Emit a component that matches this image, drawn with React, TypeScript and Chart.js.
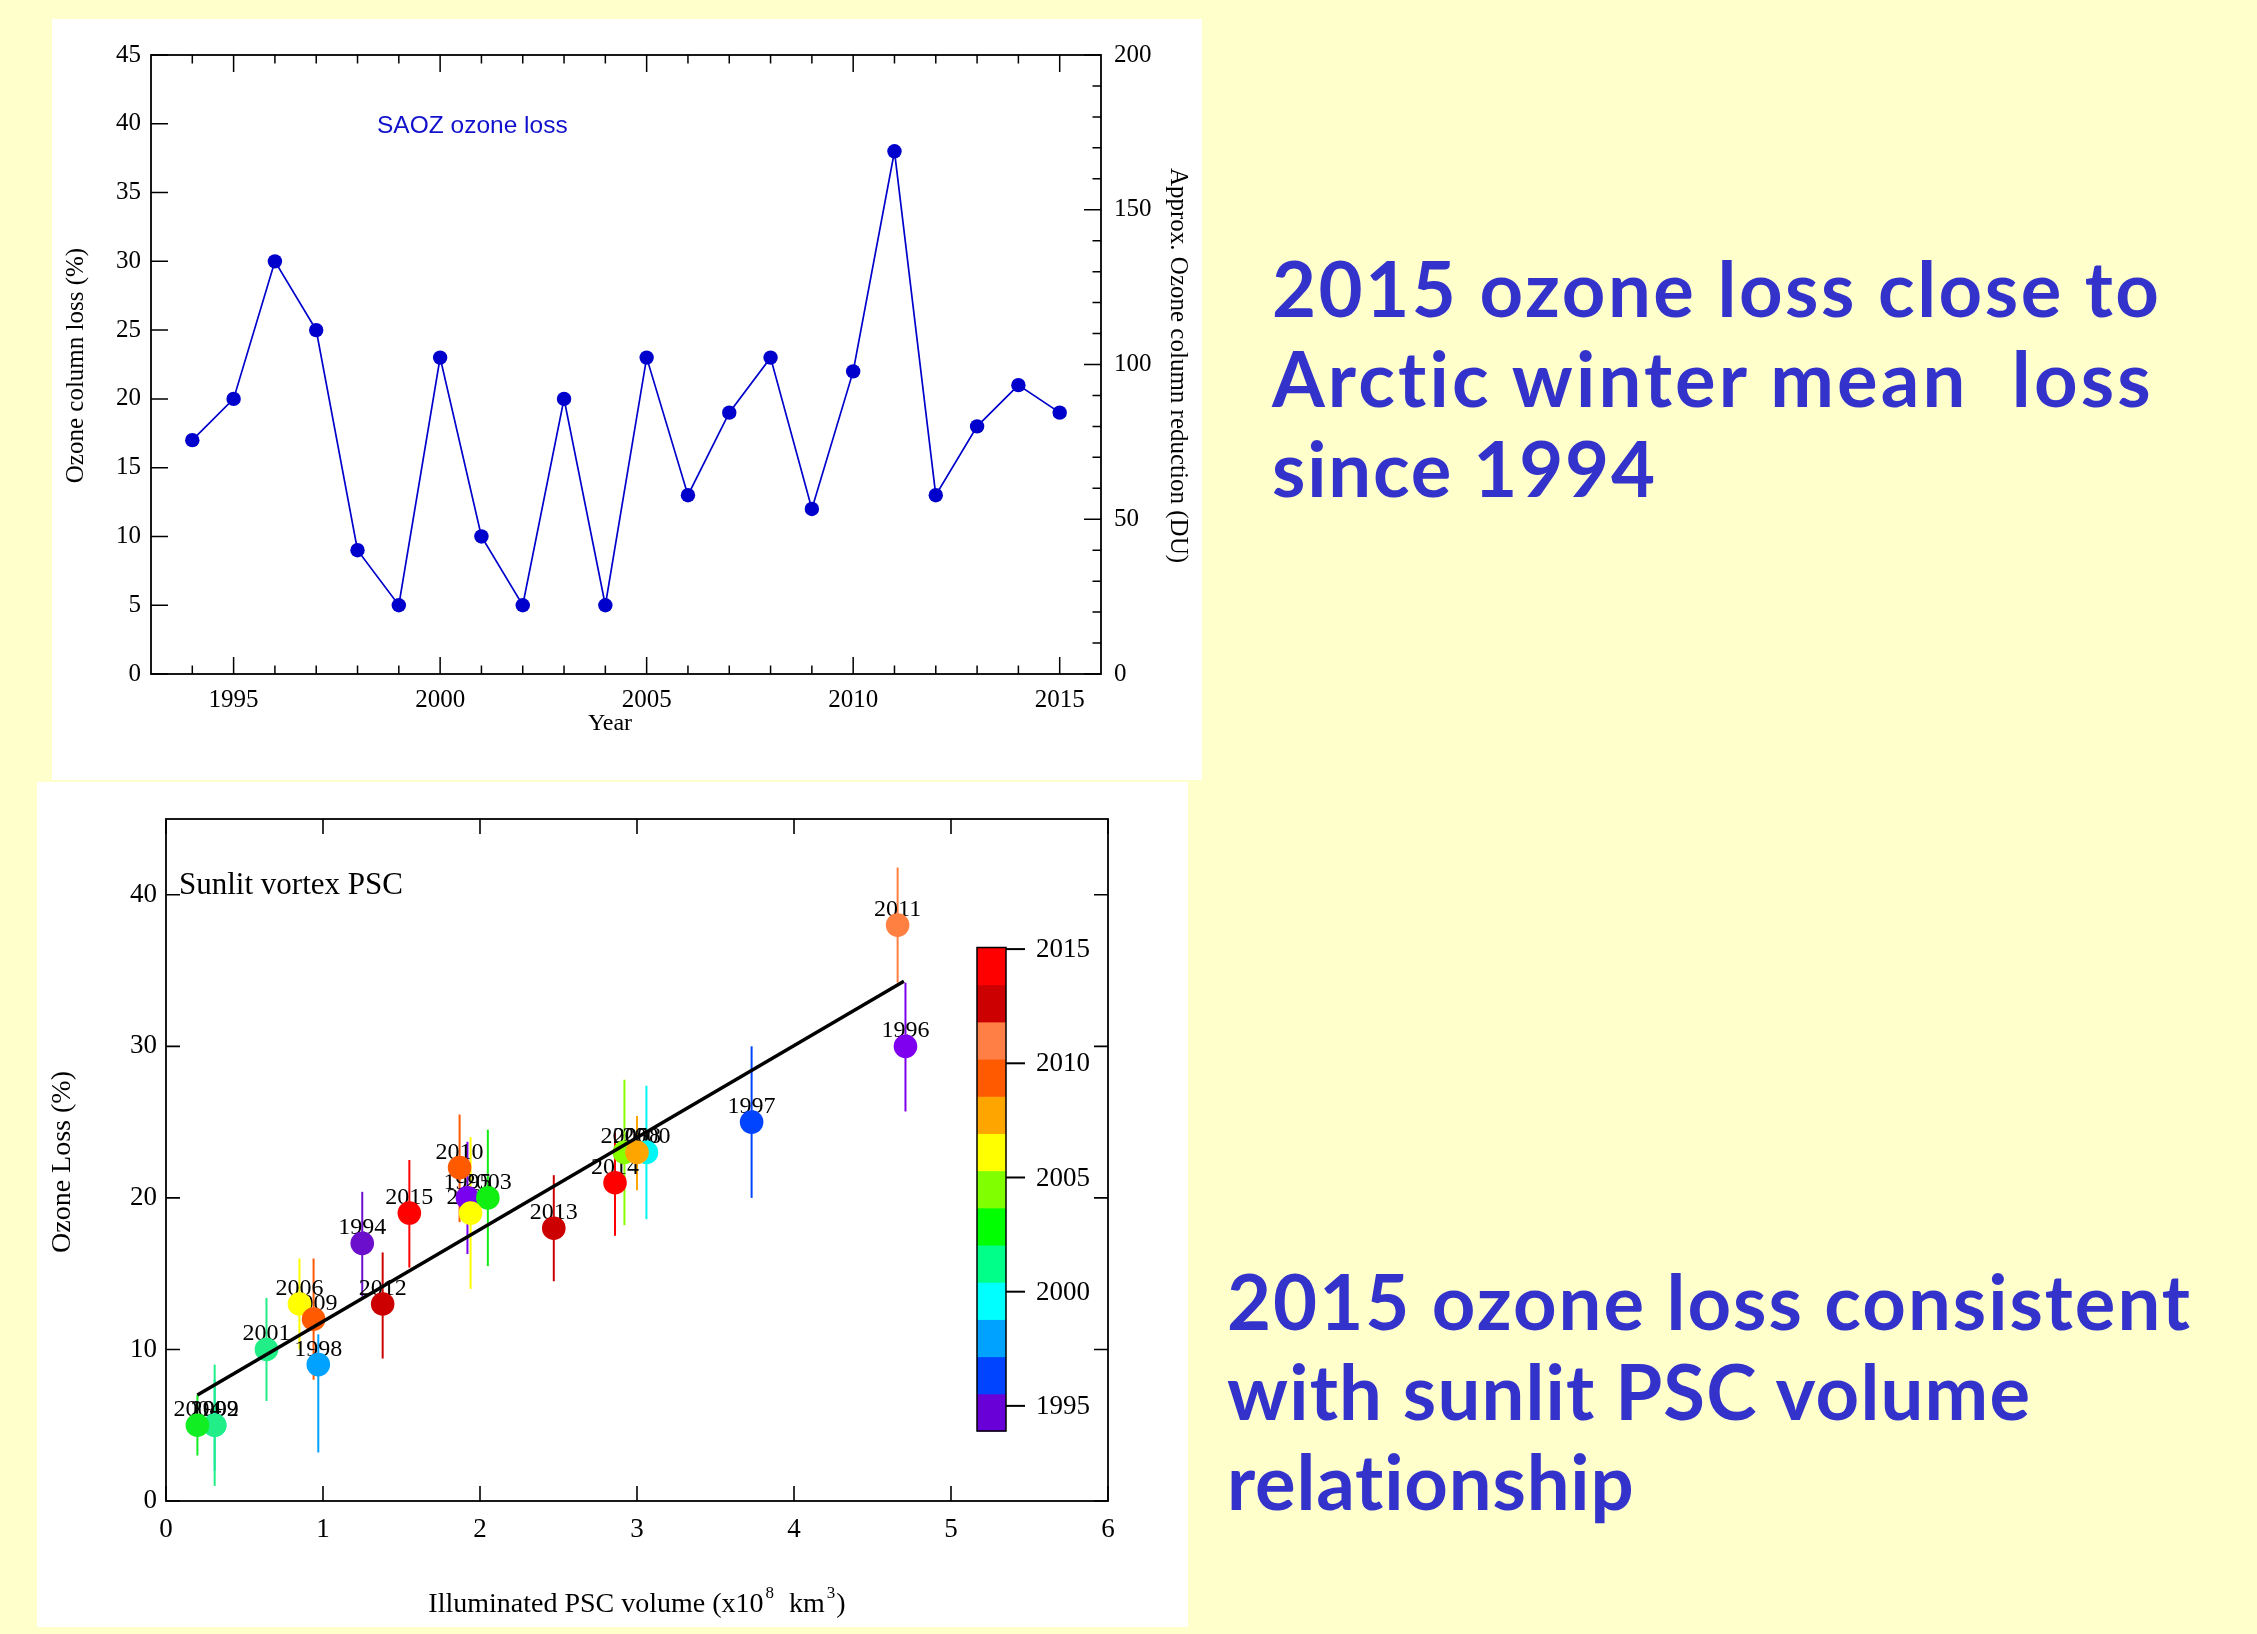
import React, { useEffect, useLayoutEffect, useRef } from "react";
import { Chart, registerables } from "chart.js";

Chart.register(...registerables);

const SERIF = '"Liberation Serif", "Times New Roman", serif';
const SANS = '"Liberation Sans", Arial, sans-serif';
const TEXT_FONT = '"Comic Sans MS", Lato, "DejaVu Sans", sans-serif';

// ---------- Top chart: SAOZ ozone loss time series ----------
const YEARS = [1994, 1995, 1996, 1997, 1998, 1999, 2000, 2001, 2002, 2003, 2004, 2005, 2006, 2007, 2008, 2009, 2010, 2011, 2012, 2013, 2014, 2015];
const OZONE_LOSS = [17, 20, 30, 25, 9, 5, 23, 10, 5, 20, 5, 23, 13, 19, 23, 12, 22, 38, 13, 18, 21, 19];
const YEAR_TICKS = [1995, 2000, 2005, 2010, 2015];
const LOSS_TICKS = [0, 5, 10, 15, 20, 25, 30, 35, 40, 45];
const DU_TICKS = [0, 50, 100, 150, 200];
const DU_MINOR_TICKS = [10, 20, 30, 40, 60, 70, 80, 90, 110, 120, 130, 140, 160, 170, 180, 190];

// ---------- Bottom chart: ozone loss vs sunlit PSC volume ----------
const PSC_YEARS = [1994, 1995, 1996, 1997, 1998, 1999, 2000, 2001, 2002, 2003, 2004, 2005, 2006, 2007, 2008, 2009, 2010, 2011, 2012, 2013, 2014, 2015];
const PSC_VOLUME = [1.25, 1.92, 4.71, 3.73, 0.97, 0.31, 3.06, 0.64, 0.31, 2.05, 0.2, 2.92, 0.85, 1.94, 3.0, 0.94, 1.87, 4.66, 1.38, 2.47, 2.86, 1.55];
const PSC_LOSS = [17, 20, 30, 25, 9, 5, 23, 10, 5, 20, 5, 23, 13, 19, 23, 12, 22, 38, 13, 18, 21, 19];
const PSC_ERR_LOW = [13.5, 16.3, 25.7, 20, 3.2, 2.0, 18.6, 6.6, 1.0, 15.5, 3.0, 18.2, 10.0, 14.0, 20.5, 8.0, 18.4, 34.2, 9.4, 14.5, 17.5, 15.4];
const PSC_ERR_HIGH = [20.4, 23.7, 34.2, 30, 11.0, 8.0, 27.4, 13.4, 9.0, 24.5, 7.0, 27.8, 16.0, 24.0, 25.4, 16.0, 25.5, 41.8, 16.4, 21.5, 24.3, 22.5];
const PSC_COLORS = ["#6B0FCC", "#7A00F0", "#7F00EE", "#0044FF", "#00A2FF", "#00D8D8", "#00F5F5", "#22EE88", "#22EE88", "#11EE11", "#11EE22", "#88FF00", "#FFFF00", "#FFFF00", "#FFA500", "#FF5A00", "#FF5A00", "#FF8040", "#CC0000", "#CC0000", "#FF0000", "#FF0000"];
const FIT_X = [0.2, 4.7];
const FIT_Y = [7.0, 34.3];
const VOL_TICKS = [0, 1, 2, 3, 4, 5, 6];
const PSC_LOSS_TICKS = [0, 10, 20, 30, 40];
const CB_TICKS = [1995, 2000, 2005, 2010, 2015];
const CB_COLORS = ["#6A00D8", "#0044FF", "#00A2FF", "#00FFFF", "#00FF88", "#00FF00", "#80FF00", "#FFFF00", "#FFA500", "#FF5A00", "#FF7F45", "#CC0000", "#FF0000"];
const CB_MIN = 1993.9;
const CB_MAX = 2015.07;

Chart.defaults.font.family = SERIF;
Chart.defaults.color = "#000";

const topDecor = {
  id: "topDecor",
  afterDraw(chart: any) {
    const { ctx, chartArea: a, scales } = chart;
    const x = scales.x, y = scales.y, y2 = scales.y2;
    ctx.save();
    ctx.strokeStyle = "#000";
    ctx.lineWidth = 1.8;
    ctx.strokeRect(a.left, a.top, a.right - a.left, a.bottom - a.top);
    ctx.lineWidth = 1.5;
    ctx.beginPath();
    for (const yr of YEARS) {
      const px = x.getPixelForValue(yr);
      const len = YEAR_TICKS.includes(yr) ? 17 : 8.5;
      ctx.moveTo(px, a.bottom); ctx.lineTo(px, a.bottom - len);
      ctx.moveTo(px, a.top); ctx.lineTo(px, a.top + len);
    }
    for (const v of LOSS_TICKS) {
      const py = y.getPixelForValue(v);
      ctx.moveTo(a.left, py); ctx.lineTo(a.left + 17, py);
    }
    for (const v of DU_TICKS) {
      const py = y2.getPixelForValue(v);
      ctx.moveTo(a.right, py); ctx.lineTo(a.right - 17, py);
    }
    for (const v of DU_MINOR_TICKS) {
      const py = y2.getPixelForValue(v);
      ctx.moveTo(a.right, py); ctx.lineTo(a.right - 8.5, py);
    }
    ctx.stroke();

    ctx.fillStyle = "#000";
    ctx.font = `25px ${SERIF}`;
    ctx.textAlign = "center";
    ctx.textBaseline = "middle";
    const cy = (a.top + a.bottom) / 2;
    ctx.save();
    ctx.translate(a.left - 75, cy + 1);
    ctx.rotate(-Math.PI / 2);
    ctx.fillText("Ozone column loss (%)", 0, 0);
    ctx.restore();
    ctx.save();
    ctx.translate(a.right + 77, cy + 1);
    ctx.rotate(Math.PI / 2);
    ctx.fillText("Approx. Ozone column reduction (DU)", 0, 0);
    ctx.restore();
    ctx.font = `24px ${SERIF}`;
    ctx.fillText("Year", (a.left + a.right) / 2 - 16, a.bottom + 50);

    ctx.fillStyle = "#1111CC";
    ctx.font = `24.5px ${SANS}`;
    ctx.textAlign = "left";
    ctx.fillText("SAOZ ozone loss", a.left + 226, a.top + 71);
    ctx.restore();
  },
};

const bottomDecor = {
  id: "bottomDecor",
  beforeDatasetsDraw(chart: any) {
    const { ctx, scales } = chart;
    const x = scales.x, y = scales.y;
    ctx.save();
    ctx.lineWidth = 2;
    PSC_YEARS.forEach((yr, i) => {
      const px = x.getPixelForValue(PSC_VOLUME[i]);
      ctx.strokeStyle = PSC_COLORS[i];
      ctx.beginPath();
      ctx.moveTo(px, y.getPixelForValue(PSC_ERR_LOW[i]));
      ctx.lineTo(px, y.getPixelForValue(PSC_ERR_HIGH[i]));
      ctx.stroke();
    });
    ctx.fillStyle = "#000";
    ctx.font = `24px ${SERIF}`;
    ctx.textAlign = "center";
    ctx.textBaseline = "alphabetic";
    PSC_YEARS.forEach((yr, i) => {
      const px = x.getPixelForValue(PSC_VOLUME[i]);
      const py = y.getPixelForValue(PSC_LOSS[i]);
      ctx.fillText(String(yr), px, py - 9);
    });
    ctx.restore();
  },
  afterDraw(chart: any) {
    const { ctx, chartArea: a, scales } = chart;
    const x = scales.x, y = scales.y;
    ctx.save();
    ctx.strokeStyle = "#000";
    ctx.lineWidth = 1.8;
    ctx.strokeRect(a.left, a.top, a.right - a.left, a.bottom - a.top);
    ctx.lineWidth = 1.6;
    ctx.beginPath();
    for (const v of VOL_TICKS) {
      const px = x.getPixelForValue(v);
      ctx.moveTo(px, a.bottom); ctx.lineTo(px, a.bottom - 15);
      ctx.moveTo(px, a.top); ctx.lineTo(px, a.top + 15);
    }
    for (const v of PSC_LOSS_TICKS) {
      const py = y.getPixelForValue(v);
      ctx.moveTo(a.left, py); ctx.lineTo(a.left + 14, py);
      ctx.moveTo(a.right, py); ctx.lineTo(a.right - 14, py);
    }
    ctx.stroke();

    // colour bar
    const bx0 = a.right - 131, bx1 = a.right - 102;
    const by0 = a.top + 128.5, by1 = a.top + 612;
    const segH = (by1 - by0) / CB_COLORS.length;
    CB_COLORS.forEach((c, i) => {
      ctx.fillStyle = c;
      ctx.fillRect(bx0, by1 - (i + 1) * segH - 0.5, bx1 - bx0, segH + 1);
    });
    ctx.lineWidth = 1.5;
    ctx.strokeRect(bx0, by0, bx1 - bx0, by1 - by0);
    ctx.fillStyle = "#000";
    ctx.font = `27px ${SERIF}`;
    ctx.textAlign = "left";
    ctx.textBaseline = "middle";
    ctx.lineWidth = 2;
    for (const t of CB_TICKS) {
      const py = by1 - ((t - CB_MIN) / (CB_MAX - CB_MIN)) * (by1 - by0);
      ctx.beginPath();
      ctx.moveTo(bx1, py); ctx.lineTo(bx1 + 19, py);
      ctx.stroke();
      ctx.fillText(String(t), bx1 + 30, py + 1);
    }

    // titles
    ctx.font = `31px ${SERIF}`;
    ctx.textBaseline = "alphabetic";
    ctx.fillText("Sunlit vortex PSC", a.left + 13, a.top + 75);

    ctx.font = `28px ${SERIF}`;
    ctx.textAlign = "center";
    ctx.textBaseline = "middle";
    ctx.save();
    ctx.translate(a.left - 103, (a.top + a.bottom) / 2 + 2);
    ctx.rotate(-Math.PI / 2);
    ctx.fillText("Ozone Loss (%)", 0, 0);
    ctx.restore();

    const parts = [
      { t: "Illuminated PSC volume (x10", sup: false },
      { t: "8", sup: true },
      { t: "  km", sup: false },
      { t: "3", sup: true },
      { t: ")", sup: false },
    ];
    const mainFont = `28px ${SERIF}`, supFont = `17px ${SERIF}`;
    let total = 0;
    for (const p of parts) { ctx.font = p.sup ? supFont : mainFont; total += ctx.measureText(p.t).width + (p.sup ? 3 : 0); }
    let cx = (a.left + a.right) / 2 - total / 2;
    const base = a.bottom + 111;
    ctx.textAlign = "left";
    ctx.textBaseline = "alphabetic";
    for (const p of parts) {
      ctx.font = p.sup ? supFont : mainFont;
      ctx.fillText(p.t, cx + (p.sup ? 2 : 0), p.sup ? base - 14 : base);
      cx += ctx.measureText(p.t).width + (p.sup ? 3 : 0);
    }
    ctx.restore();
  },
};

const noGrid = { display: false, drawTicks: false };

function TopChart() {
  const ref = useRef<HTMLCanvasElement>(null);
  useEffect(() => {
    const chart = new Chart(ref.current!, {
      type: "line",
      data: {
        datasets: [
          {
            data: YEARS.map((yr, i) => ({ x: yr, y: OZONE_LOSS[i] })),
            borderColor: "#0000CC",
            backgroundColor: "#0000CC",
            borderWidth: 1.7,
            pointRadius: 7.2,
            pointBorderWidth: 0,
            pointBackgroundColor: "#0000CC",
            yAxisID: "y",
          },
        ],
      },
      options: {
        animation: false,
        responsive: false,
        maintainAspectRatio: false,
        layout: { padding: { top: 36, left: 0, right: 0, bottom: 0 } },
        plugins: { legend: { display: false }, tooltip: { enabled: false } },
        scales: {
          x: {
            type: "linear", min: 1993, max: 2016,
            grid: noGrid, border: { display: false },
            afterFit: (s: any) => { s.height = 106; },
            afterBuildTicks: (s: any) => { s.ticks = YEAR_TICKS.map((v) => ({ value: v })); },
            ticks: { font: { family: SERIF, size: 25 }, color: "#000", padding: 11, maxRotation: 0, autoSkip: false, callback: (v: any) => String(v) },
          },
          y: {
            type: "linear", position: "left", min: 0, max: 45,
            grid: noGrid, border: { display: false },
            afterFit: (s: any) => { s.width = 99; },
            afterBuildTicks: (s: any) => { s.ticks = LOSS_TICKS.map((v) => ({ value: v })); },
            ticks: { font: { family: SERIF, size: 25 }, color: "#000", padding: 10, autoSkip: false, callback: (v: any) => String(v) },
          },
          y2: {
            type: "linear", position: "right", min: 0, max: 200,
            grid: noGrid, border: { display: false },
            afterFit: (s: any) => { s.width = 101; },
            afterBuildTicks: (s: any) => { s.ticks = DU_TICKS.map((v) => ({ value: v })); },
            ticks: { font: { family: SERIF, size: 25 }, color: "#000", padding: 13, autoSkip: false, callback: (v: any) => String(v) },
          },
        },
      } as any,
      plugins: [topDecor],
    });
    return () => chart.destroy();
  }, []);
  return <canvas ref={ref} width={1150} height={761} style={{ display: "block", width: 1150, height: 761 }} />;
}

function BottomChart() {
  const ref = useRef<HTMLCanvasElement>(null);
  useEffect(() => {
    const chart = new Chart(ref.current!, {
      type: "scatter",
      data: {
        datasets: [
          {
            type: "line",
            data: FIT_X.map((v, i) => ({ x: v, y: FIT_Y[i] })),
            borderColor: "#000",
            borderWidth: 3.5,
            pointRadius: 0,
            showLine: true,
            order: 0,
          } as any,
          {
            type: "scatter",
            data: PSC_VOLUME.map((v, i) => ({ x: v, y: PSC_LOSS[i] })),
            pointRadius: 11.8,
            pointBorderWidth: 0,
            pointBackgroundColor: PSC_COLORS,
            backgroundColor: PSC_COLORS,
            borderWidth: 0,
            order: 1,
          } as any,
        ],
      },
      options: {
        animation: false,
        responsive: false,
        maintainAspectRatio: false,
        layout: { padding: { top: 37, left: 0, right: 80, bottom: 0 } },
        plugins: { legend: { display: false }, tooltip: { enabled: false } },
        scales: {
          x: {
            type: "linear", min: 0, max: 6,
            grid: noGrid, border: { display: false },
            afterFit: (s: any) => { s.height = 126; },
            afterBuildTicks: (s: any) => { s.ticks = VOL_TICKS.map((v) => ({ value: v })); },
            ticks: { font: { family: SERIF, size: 27 }, color: "#000", padding: 13, maxRotation: 0, autoSkip: false, callback: (v: any) => String(v) },
          },
          y: {
            type: "linear", min: 0, max: 45,
            grid: noGrid, border: { display: false },
            afterFit: (s: any) => { s.width = 129; },
            afterBuildTicks: (s: any) => { s.ticks = PSC_LOSS_TICKS.map((v) => ({ value: v })); },
            ticks: { font: { family: SERIF, size: 27 }, color: "#000", padding: 9, autoSkip: false, callback: (v: any) => String(v) },
          },
        },
      } as any,
      plugins: [bottomDecor],
    });
    return () => chart.destroy();
  }, []);
  return <canvas ref={ref} width={1151} height={845} style={{ display: "block", width: 1151, height: 845 }} />;
}

const TEXT_SIZE = 76;

function FitLine({ text, left, baseline, width }: { text: string; left: number; baseline: number; width: number }) {
  const ref = useRef<HTMLDivElement>(null);
  const mark = useRef<HTMLSpanElement>(null);
  useLayoutEffect(() => {
    const el = ref.current!;
    el.style.letterSpacing = "0px";
    const r = el.getBoundingClientRect();
    const ls = (width - r.width) / Math.max(1, text.length - 1);
    el.style.letterSpacing = ls + "px";
    const r2 = el.getBoundingClientRect();
    const m = mark.current!.getBoundingClientRect();
    const off = m.top - r2.top;
    el.style.top = baseline - off + "px";
  }, [text, width, baseline]);
  return (
    <div
      ref={ref}
      style={{
        position: "absolute",
        left,
        top: baseline - 65,
        fontFamily: TEXT_FONT,
        fontWeight: 700,
        fontSize: TEXT_SIZE,
        lineHeight: `${TEXT_SIZE}px`,
        color: "#3333CC",
        whiteSpace: "pre",
      }}
    >
      {text}
      <span ref={mark} style={{ display: "inline-block", width: 0, height: 0 }} />
    </div>
  );
}

export default function App() {
  return (
    <div style={{ position: "fixed", left: 0, top: 0, width: 2257, height: 1634, background: "#FFFFCC", overflow: "hidden" }}>
      <div style={{ position: "absolute", left: 52, top: 19, width: 1150, height: 761, background: "#FFFFFF" }}>
        <TopChart />
      </div>
      <div style={{ position: "absolute", left: 37, top: 782, width: 1151, height: 845, background: "#FFFFFF" }}>
        <BottomChart />
      </div>
      <FitLine text="2015 ozone loss close to" left={1272} baseline={317} width={887} />
      <FitLine text="Arctic winter mean  loss" left={1272} baseline={407} width={880} />
      <FitLine text="since 1994" left={1272} baseline={497} width={383} />
      <FitLine text="2015 ozone loss consistent" left={1227} baseline={1330} width={963} />
      <FitLine text="with sunlit PSC volume" left={1227} baseline={1420} width={803} />
      <FitLine text="relationship" left={1227} baseline={1510} width={408} />
    </div>
  );
}
